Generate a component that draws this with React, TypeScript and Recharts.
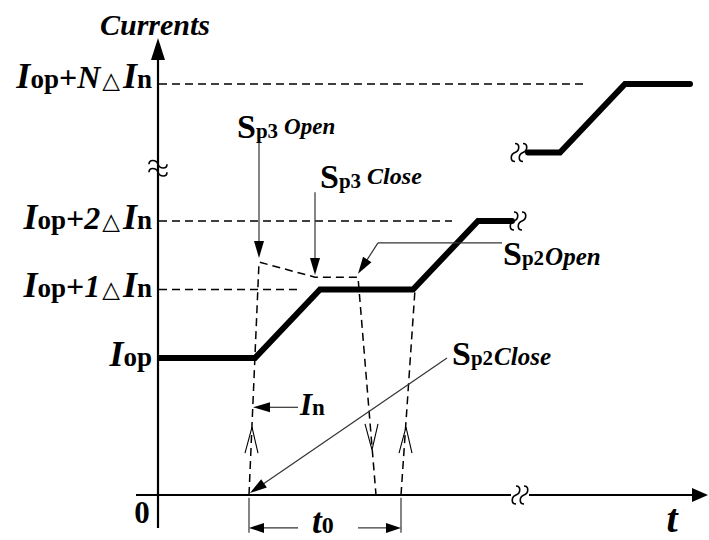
import React from 'react'
import { ComposedChart, Line, XAxis, YAxis, ReferenceLine, ReferenceDot } from 'recharts'

const SERIF = '"Liberation Serif", "Times New Roman", serif'
const WIDTH = 709
const HEIGHT = 540
const AXIS_WIDTH = 158
const T_MAX = 551
const LEVEL_MIN = -0.657
const LEVEL_MAX = 7.226

// supply current, drawn in two pieces on either side of the break
const lowerTime = [0, 97, 162, 255, 320, 354]
const lowerLevel = [2, 2, 3, 3, 4, 4]
const upperTime = [370, 402, 467, 532]
const upperLevel = [5, 5, 6, 6]

// switch currents (dashed)
const sp3Time = [91, 101, 157, 200, 218]
const sp3Level = [0, 3.4, 3.18, 3.18, 0]
const sp2Time = [243, 257]
const sp2Level = [0, 3]

// level ticks: Iop, Iop+1ΔIn, Iop+2ΔIn, Iop+NΔIn
const levelTicks = [2, 3, 4, 6]
const levelSteps = ['', '1', '2', 'N']

// dashed guides running out from the axis
const guideLevels = [3, 4, 6]
const guideEnds = [144, 294, 427]

const zip = (ts: number[], ls: number[]) => ts.map((t, i) => ({ t, level: ls[i] }))

// pointer arrows: [t, level] -> [t, level]
const pointers = [
  { from: [101, 5.17], to: [101, 3.46] },
  { from: [157, 4.42], to: [157, 3.21] },
  { from: [220, 3.68], to: [200, 3.23] },
  { from: [289, 2.0], to: [92, 0.03] },
  { from: [140, 1.28], to: [95, 1.28] },
]

const switchLabels = [
  { t: 79, level: 5.21, sub: 'p3', word: 'Open', rise: 4, gap: 6, size: 23 },
  { t: 162, level: 4.48, sub: 'p3', word: 'Close', rise: 4, gap: 6, size: 24 },
  { t: 345, level: 3.36, sub: 'p2', word: 'Open', rise: 0, gap: 1, size: 25 },
  { t: 294, level: 1.9, sub: 'p2', word: 'Close', rise: 0, gap: 1, size: 25 },
]

// open chevrons showing the direction of the switch currents
const chevrons = [
  { t: 94, level: 0.99, up: true },
  { t: 214, level: 0.66, up: false },
  { t: 248, level: 0.99, up: true },
]

const breaks = [
  { t: 362, level: 0, gap: true },
  { t: 360, level: 4, gap: false },
  { t: 361, level: 5, gap: false },
]

const arrow = (head: number, half: number, width: number, color = '#000') => (p: any) => {
  const { x1, y1, x2, y2 } = p
  const a = Math.atan2(y2 - y1, x2 - x1)
  const c = Math.cos(a)
  const s = Math.sin(a)
  const bx = x2 - head * c
  const by = y2 - head * s
  return (
    <g>
      <line x1={x1} y1={y1} x2={bx + c} y2={by + s} stroke={color} strokeWidth={width} />
      <polygon
        points={`${x2},${y2} ${bx + half * s},${by - half * c} ${bx - half * s},${by + half * c}`}
        fill="#000"
      />
    </g>
  )
}

const LevelTick = ({ x, y, payload }: any) => {
  const step = levelSteps[levelTicks.indexOf(payload.value)]
  return (
    <text x={x} y={y + (payload.value === 6 ? 4 : 8)} textAnchor="end" fontFamily={SERIF} fontWeight="bold" fill="#000">
      <tspan fontStyle="italic" fontSize={36}>I</tspan>
      <tspan fontSize={27}>op</tspan>
      {step && (
        <>
          <tspan fontSize={32}>+</tspan>
          <tspan fontStyle="italic" fontSize={32}>{step}</tspan>
          <tspan fontFamily="DejaVu Sans" fontWeight="normal" fontSize={23} dx={2}>△</tspan>
          <tspan fontStyle="italic" fontSize={36} dx={3}>I</tspan>
          <tspan fontSize={27}>n</tspan>
        </>
      )}
    </text>
  )
}

// two small S-curves marking a broken axis or trace
const wave = 'C 5,-9 5,-2 0,0 C -5,2 -5,9 0,9'
const shiftWave = (dx: number) =>
  `M ${dx},-9 ${wave.replace(/(-?\d+),(-?\d+)/g, (_, a, b) => `${+a + dx},${b}`)}`
const BreakMark = ({ cx, cy, horizontal, gap }: any) => (
  <g transform={`translate(${cx},${cy})${horizontal ? ' rotate(90)' : ''}`}>
    {gap && <rect x={-9} y={-10} width={18} height={20} fill="#fff" />}
    <path d={shiftWave(-4)} fill="none" stroke="#000" strokeWidth={1.6} />
    <path d={shiftWave(4)} fill="none" stroke="#000" strokeWidth={1.6} />
  </g>
)

export default function App() {
  return (
    <div style={{ position: 'absolute', left: 0, top: 0, background: '#fff' }}>
      <ComposedChart width={WIDTH} height={HEIGHT} margin={{ top: 0, right: 0, bottom: 0, left: 0 }}>
        <XAxis type="number" dataKey="t" domain={[0, T_MAX]} allowDataOverflow hide />
        <YAxis
          type="number"
          domain={[LEVEL_MIN, LEVEL_MAX]}
          allowDataOverflow
          width={AXIS_WIDTH}
          ticks={levelTicks}
          interval={0}
          axisLine={false}
          tickLine={false}
          tickSize={0}
          tickMargin={6}
          tick={<LevelTick />}
        />

        {guideLevels.map((lv, i) => (
          <ReferenceLine
            key={`g${lv}`}
            segment={[{ x: 1, y: lv }, { x: guideEnds[i], y: lv }]}
            stroke="#000"
            strokeWidth={1.4}
            strokeDasharray="8 5"
          />
        ))}

        {/* axes with arrowheads */}
        <ReferenceLine
          segment={[{ x: -22, y: 0 }, { x: 550, y: 0 }]}
          ifOverflow="visible"
          shape={arrow(16, 7, 2.2)}
        />
        <ReferenceLine
          segment={[{ x: 0, y: -0.48 }, { x: 0, y: 6.67 }]}
          ifOverflow="visible"
          shape={arrow(22, 7, 2.2)}
        />

        <Line
          data={zip(sp3Time, sp3Level)}
          dataKey="level"
          type="linear"
          stroke="#000"
          strokeWidth={1.5}
          strokeDasharray="8 5"
          dot={false}
          isAnimationActive={false}
        />
        <Line
          data={zip(sp2Time, sp2Level)}
          dataKey="level"
          type="linear"
          stroke="#000"
          strokeWidth={1.5}
          strokeDasharray="8 5"
          dot={false}
          isAnimationActive={false}
        />
        <Line
          data={zip(lowerTime, lowerLevel)}
          dataKey="level"
          type="linear"
          stroke="#000"
          strokeWidth={6}
          strokeLinecap="round"
          dot={false}
          isAnimationActive={false}
        />
        <Line
          data={zip(upperTime, upperLevel)}
          dataKey="level"
          type="linear"
          stroke="#000"
          strokeWidth={6}
          strokeLinecap="round"
          dot={false}
          isAnimationActive={false}
        />

        {breaks.map((b, i) => (
          <ReferenceDot key={`b${i}`} x={b.t} y={b.level} r={0} shape={(p: any) => <BreakMark {...p} gap={b.gap} />} />
        ))}
        <ReferenceDot
          x={0}
          y={4.77}
          r={0}
          ifOverflow="visible"
          shape={(p: any) => <BreakMark {...p} horizontal />}
        />

        {/* pointers */}
        <ReferenceLine segment={[{ x: 344, y: 3.68 }, { x: 220, y: 3.68 }]} stroke="#333" strokeWidth={1.2} />
        {pointers.map((p, i) => (
          <ReferenceLine
            key={`p${i}`}
            segment={[{ x: p.from[0], y: p.from[1] }, { x: p.to[0], y: p.to[1] }]}
            shape={arrow(17, 5, 1.2, '#333')}
          />
        ))}

        {chevrons.map((c, i) => (
          <ReferenceDot
            key={`c${i}`}
            x={c.t}
            y={c.level}
            r={0}
            shape={(p: any) => {
              const d = c.up ? 26 : -26
              return (
                <polyline
                  points={`${p.cx - 7},${p.cy + d} ${p.cx},${p.cy} ${p.cx + 6},${p.cy + d}`}
                  fill="none"
                  stroke="#000"
                  strokeWidth={1.1}
                />
              )
            }}
          />
        ))}

        {/* t0 span under the axis */}
        {[91, 243].map((t) => (
          <ReferenceLine key={`s${t}`} segment={[{ x: t, y: -0.04 }, { x: t, y: -0.55 }]} stroke="#333" strokeWidth={1.2} />
        ))}
        <ReferenceLine segment={[{ x: 140, y: -0.48 }, { x: 91, y: -0.48 }]} shape={arrow(15, 5, 1.2, '#333')} />
        <ReferenceLine segment={[{ x: 200, y: -0.48 }, { x: 243, y: -0.48 }]} shape={arrow(15, 5, 1.2, '#333')} />

        {/* text */}
        <ReferenceDot
          x={-3}
          y={6.72}
          r={0}
          ifOverflow="visible"
          shape={(p: any) => (
            <text x={p.cx} y={p.cy} textAnchor="middle" fontFamily={SERIF} fontWeight="bold" fontStyle="italic" fontSize={30}>
              Currents
            </text>
          )}
        />
        <ReferenceDot
          x={-16}
          y={-0.41}
          r={0}
          ifOverflow="visible"
          shape={(p: any) => (
            <text x={p.cx} y={p.cy} textAnchor="middle" fontFamily={SERIF} fontWeight="bold" fontSize={31}>
              0
            </text>
          )}
        />
        <ReferenceDot
          x={514}
          y={-0.54}
          r={0}
          shape={(p: any) => (
            <text x={p.cx} y={p.cy} textAnchor="middle" fontFamily={SERIF} fontWeight="bold" fontStyle="italic" fontSize={40}>
              t
            </text>
          )}
        />
        <ReferenceDot
          x={154}
          y={-0.55}
          r={0}
          shape={(p: any) => (
            <text x={p.cx} y={p.cy} fontFamily={SERIF} fontWeight="bold">
              <tspan fontStyle="italic" fontSize={35}>t</tspan>
              <tspan fontSize={24}>0</tspan>
            </text>
          )}
        />
        <ReferenceDot
          x={142}
          y={1.17}
          r={0}
          shape={(p: any) => (
            <text x={p.cx} y={p.cy} fontFamily={SERIF} fontWeight="bold">
              <tspan fontStyle="italic" fontSize={31}>I</tspan>
              <tspan fontSize={23}>n</tspan>
            </text>
          )}
        />
        {switchLabels.map((l, i) => (
          <ReferenceDot
            key={`l${i}`}
            x={l.t}
            y={l.level}
            r={0}
            shape={(p: any) => (
              <text x={p.cx} y={p.cy} fontFamily={SERIF} fontWeight="bold" fill="#000">
                <tspan fontSize={34}>S</tspan>
                <tspan fontSize={21}>{l.sub}</tspan>
                <tspan fontStyle="italic" fontSize={l.size} dx={l.gap} dy={-l.rise}>
                  {l.word}
                </tspan>
              </text>
            )}
          />
        ))}
      </ComposedChart>
    </div>
  )
}
